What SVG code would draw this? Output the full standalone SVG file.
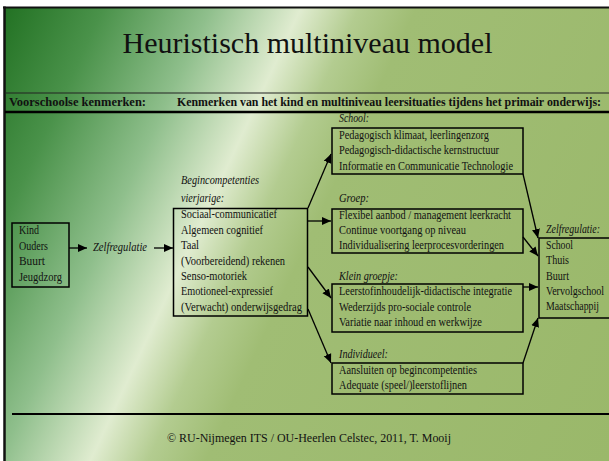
<svg xmlns="http://www.w3.org/2000/svg" width="609" height="461" viewBox="0 0 609 461">
<defs>
<linearGradient id="bg" gradientUnits="userSpaceOnUse" x1="0" y1="0" x2="677" y2="315">
<stop offset="0" stop-color="#1f6f20"/>
<stop offset="0.13" stop-color="#4a924a"/>
<stop offset="0.26" stop-color="#8fbf8c"/>
<stop offset="0.37" stop-color="#e0ecd0"/>
<stop offset="0.44" stop-color="#b3cc90"/>
<stop offset="0.51" stop-color="#a0bd74"/>
<stop offset="1" stop-color="#9ab86a"/>
</linearGradient>
<marker id="ah" markerUnits="userSpaceOnUse" markerWidth="10" markerHeight="10" refX="9" refY="5" orient="auto">
<path d="M0,1 L9,5 L0,9 Z" fill="#000"/>
</marker>
<style>
text{font-family:"Liberation Serif","Times New Roman",serif;fill:#111;}
.t{font-size:12px;}
.i{font-size:12px;font-style:italic;}
.h{font-size:12.5px;font-weight:bold;}
.box{fill:none;stroke:#000;stroke-width:1.5;}
.c line{stroke:#000;stroke-width:1.3;marker-end:url(#ah);}
</style>
</defs>
<rect x="0" y="0" width="609" height="461" fill="#fff"/>
<rect x="4" y="7" width="605" height="454" fill="url(#bg)"/>
<line x1="3" y1="7.5" x2="609" y2="7.5" stroke="#111" stroke-width="2"/>
<line x1="4.5" y1="6.5" x2="4.5" y2="461" stroke="#111" stroke-width="2.5"/>

<g id="title">
<text x="307.5" y="53" font-size="30" text-anchor="middle">Heuristisch multiniveau model</text>
</g>
<g id="header">
<line x1="5" y1="93" x2="609" y2="93" stroke="#222" stroke-width="1.2"/>
<line x1="5" y1="112" x2="609" y2="112" stroke="#000" stroke-width="2.5"/>
<text class="h" x="9" y="106" textLength="137" lengthAdjust="spacingAndGlyphs">Voorschoolse kenmerken:</text>
<text class="h" x="177" y="106" textLength="424" lengthAdjust="spacingAndGlyphs">Kenmerken van het kind en multiniveau leersituaties tijdens het primair onderwijs:</text>
</g>

<g id="voorschools">
<rect class="box" x="12" y="223" width="57" height="64"/>
<text class="t" x="19" y="234" textLength="20" lengthAdjust="spacingAndGlyphs">Kind</text>
<text class="t" x="19" y="250" textLength="29" lengthAdjust="spacingAndGlyphs">Ouders</text>
<text class="t" x="19" y="265" textLength="26" lengthAdjust="spacingAndGlyphs">Buurt</text>
<text class="t" x="19" y="281" textLength="43" lengthAdjust="spacingAndGlyphs">Jeugdzorg</text>
</g>

<g id="zelfregulatie-links">
<text class="i" x="93" y="251" textLength="54" lengthAdjust="spacingAndGlyphs">Zelfregulatie</text>
</g>

<g id="begincompetenties">
<text class="i" x="181" y="184" textLength="78" lengthAdjust="spacingAndGlyphs">Begincompetenties</text>
<text class="i" x="181" y="202" textLength="43" lengthAdjust="spacingAndGlyphs">vierjarige:</text>
<rect class="box" x="173.5" y="208.5" width="134" height="107.5"/>
<text class="t" x="181" y="218" textLength="96" lengthAdjust="spacingAndGlyphs">Sociaal-communicatief</text>
<text class="t" x="181" y="233.5" textLength="82" lengthAdjust="spacingAndGlyphs">Algemeen cognitief</text>
<text class="t" x="181" y="249" textLength="18" lengthAdjust="spacingAndGlyphs">Taal</text>
<text class="t" x="181" y="264.5" textLength="104" lengthAdjust="spacingAndGlyphs">(Voorbereidend) rekenen</text>
<text class="t" x="181" y="279.5" textLength="66" lengthAdjust="spacingAndGlyphs">Senso-motoriek</text>
<text class="t" x="181" y="295" textLength="92" lengthAdjust="spacingAndGlyphs">Emotioneel-expressief</text>
<text class="t" x="181" y="310.5" textLength="121" lengthAdjust="spacingAndGlyphs">(Verwacht) onderwijsgedrag</text>
</g>

<g id="school">
<text class="i" x="339" y="122" textLength="30" lengthAdjust="spacingAndGlyphs">School:</text>
<rect class="box" x="332" y="128" width="191" height="46"/>
<text class="t" x="339" y="138.5" textLength="150" lengthAdjust="spacingAndGlyphs">Pedagogisch klimaat, leerlingenzorg</text>
<text class="t" x="339" y="154" textLength="160" lengthAdjust="spacingAndGlyphs">Pedagogisch-didactische kernstructuur</text>
<text class="t" x="339" y="169.5" textLength="174" lengthAdjust="spacingAndGlyphs">Informatie en Communicatie Technologie</text>
</g>

<g id="groep">
<text class="i" x="339" y="202" textLength="30" lengthAdjust="spacingAndGlyphs">Groep:</text>
<rect class="box" x="332" y="209" width="191" height="44"/>
<text class="t" x="339" y="218.5" textLength="172" lengthAdjust="spacingAndGlyphs">Flexibel aanbod / management leerkracht</text>
<text class="t" x="339" y="233.5" textLength="127" lengthAdjust="spacingAndGlyphs">Continue voortgang op niveau</text>
<text class="t" x="339" y="248.5" textLength="165" lengthAdjust="spacingAndGlyphs">Individualisering leerprocesvorderingen</text>
</g>

<g id="klein-groepje">
<text class="i" x="339" y="280" textLength="59" lengthAdjust="spacingAndGlyphs">Klein groepje:</text>
<rect class="box" x="332" y="284" width="191" height="48"/>
<text class="t" x="339" y="295" textLength="173" lengthAdjust="spacingAndGlyphs">Leerstofinhoudelijk-didactische integratie</text>
<text class="t" x="339" y="310.5" textLength="132" lengthAdjust="spacingAndGlyphs">Wederzijds pro-sociale controle</text>
<text class="t" x="339" y="326" textLength="143" lengthAdjust="spacingAndGlyphs">Variatie naar inhoud en werkwijze</text>
</g>

<g id="individueel">
<text class="i" x="339" y="358" textLength="49" lengthAdjust="spacingAndGlyphs">Individueel:</text>
<rect class="box" x="332" y="363" width="191" height="31"/>
<text class="t" x="339" y="373.5" textLength="138" lengthAdjust="spacingAndGlyphs">Aansluiten op begincompetenties</text>
<text class="t" x="339" y="389" textLength="128" lengthAdjust="spacingAndGlyphs">Adequate (speel/)leerstoflijnen</text>
</g>

<g id="zelfregulatie-rechts">
<text class="i" x="546" y="233" textLength="54" lengthAdjust="spacingAndGlyphs">Zelfregulatie:</text>
<rect class="box" x="539" y="238" width="80" height="80"/>
<text class="t" x="546" y="248.5" textLength="27" lengthAdjust="spacingAndGlyphs">School</text>
<text class="t" x="546" y="264" textLength="23" lengthAdjust="spacingAndGlyphs">Thuis</text>
<text class="t" x="546" y="279.5" textLength="23" lengthAdjust="spacingAndGlyphs">Buurt</text>
<text class="t" x="546" y="294.5" textLength="58" lengthAdjust="spacingAndGlyphs">Vervolgschool</text>
<text class="t" x="546" y="310" textLength="53" lengthAdjust="spacingAndGlyphs">Maatschappij</text>
</g>

<g id="connectors" class="c">
<line x1="69" y1="248" x2="87" y2="248"/>
<line x1="154" y1="248" x2="173" y2="248"/>
<line x1="308" y1="208" x2="331" y2="154"/>
<line x1="308" y1="221" x2="331" y2="221"/>
<line x1="308" y1="267" x2="331" y2="298"/>
<line x1="308" y1="309" x2="331" y2="363"/>
<line x1="523" y1="174" x2="538" y2="238"/>
<line x1="523" y1="237" x2="538" y2="256"/>
<line x1="523" y1="287" x2="538" y2="287"/>
<line x1="523" y1="363" x2="538" y2="318"/>
</g>

<g id="footer">
<line x1="12" y1="414" x2="609" y2="414" stroke="#000" stroke-width="2"/>
<text class="t" x="167" y="442" textLength="284" lengthAdjust="spacingAndGlyphs">© RU-Nijmegen ITS / OU-Heerlen Celstec, 2011, T. Mooij</text>
</g>
</svg>
